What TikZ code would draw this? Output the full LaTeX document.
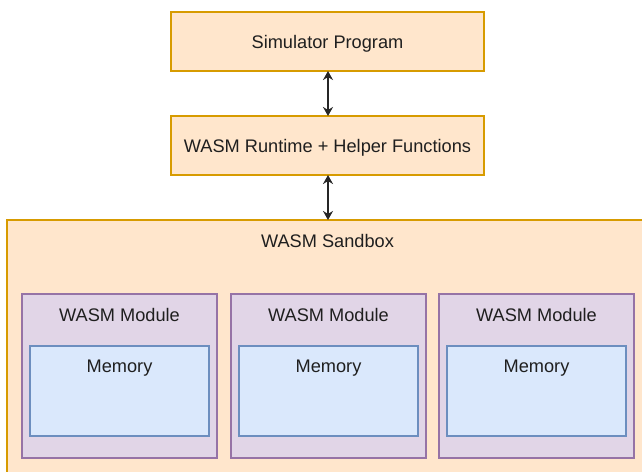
\documentclass[tikz,border=0pt]{standalone}
\usepackage{fontspec}
\setmainfont{Liberation Sans}
\usetikzlibrary{arrows.meta}
\definecolor{ofill}{HTML}{FFE6CC}
\definecolor{odraw}{HTML}{D79B00}
\definecolor{pfill}{HTML}{E1D5E7}
\definecolor{pdraw}{HTML}{9673A6}
\definecolor{bfill}{HTML}{DAE8FC}
\definecolor{bdraw}{HTML}{6C8EBF}
\tikzset{
  obox/.style={draw=odraw, fill=ofill, line width=1.3pt},
  pbox/.style={draw=pdraw, fill=pfill, line width=1.3pt},
  bbox/.style={draw=bdraw, fill=bfill, line width=1.3pt},
  lbl/.style={font=\fontsize{18.2}{20}\selectfont, text=black!88, inner sep=0pt, anchor=base},
  conn/.style={{Stealth[length=9pt,width=10pt]}-{Stealth[length=9pt,width=10pt]}, line width=1.4pt, draw=black!85}
}
\begin{document}
\begin{tikzpicture}[x=1pt,y=-1pt]
\useasboundingbox (0,0) rectangle (642,471);
\fill[white] (0,0) rectangle (642,471);
% top boxes
\path[obox] (171,12) rectangle (484,71);
\node[lbl] (sim) at (327.5,48) {Simulator Program};
\coordinate (simb) at (328,71);
\path[obox] (171,116) rectangle (484,175);
\node[lbl] (rt) at (327.5,152.5) {WASM Runtime + Helper Functions};
\coordinate (rtt) at (328,116);
\coordinate (rtb) at (328,175);
% sandbox
\begin{scope}
\clip (0,0) rectangle (642,471);
\path[obox] (7,220) rectangle (660,490);
\end{scope}
\coordinate (sbt) at (328,220);
\node[lbl] (sb) at (327.5,247.5) {WASM Sandbox};
% modules
\foreach \i/\xl in {1/22,2/231,3/439}{
  \path[pbox] (\xl,294) rectangle ++(195,164);
  \node[lbl] (mod\i) at (\xl+97.5,321.5) {WASM Module};
  \path[bbox] (\xl+8,346) rectangle ++(179,90);
  \node[lbl] (mem\i) at (\xl+97.5,372.5) {Memory};
}
\draw[conn] (simb) -- (rtt);
\draw[conn] (rtb) -- (sbt);
\end{tikzpicture}
\end{document}
